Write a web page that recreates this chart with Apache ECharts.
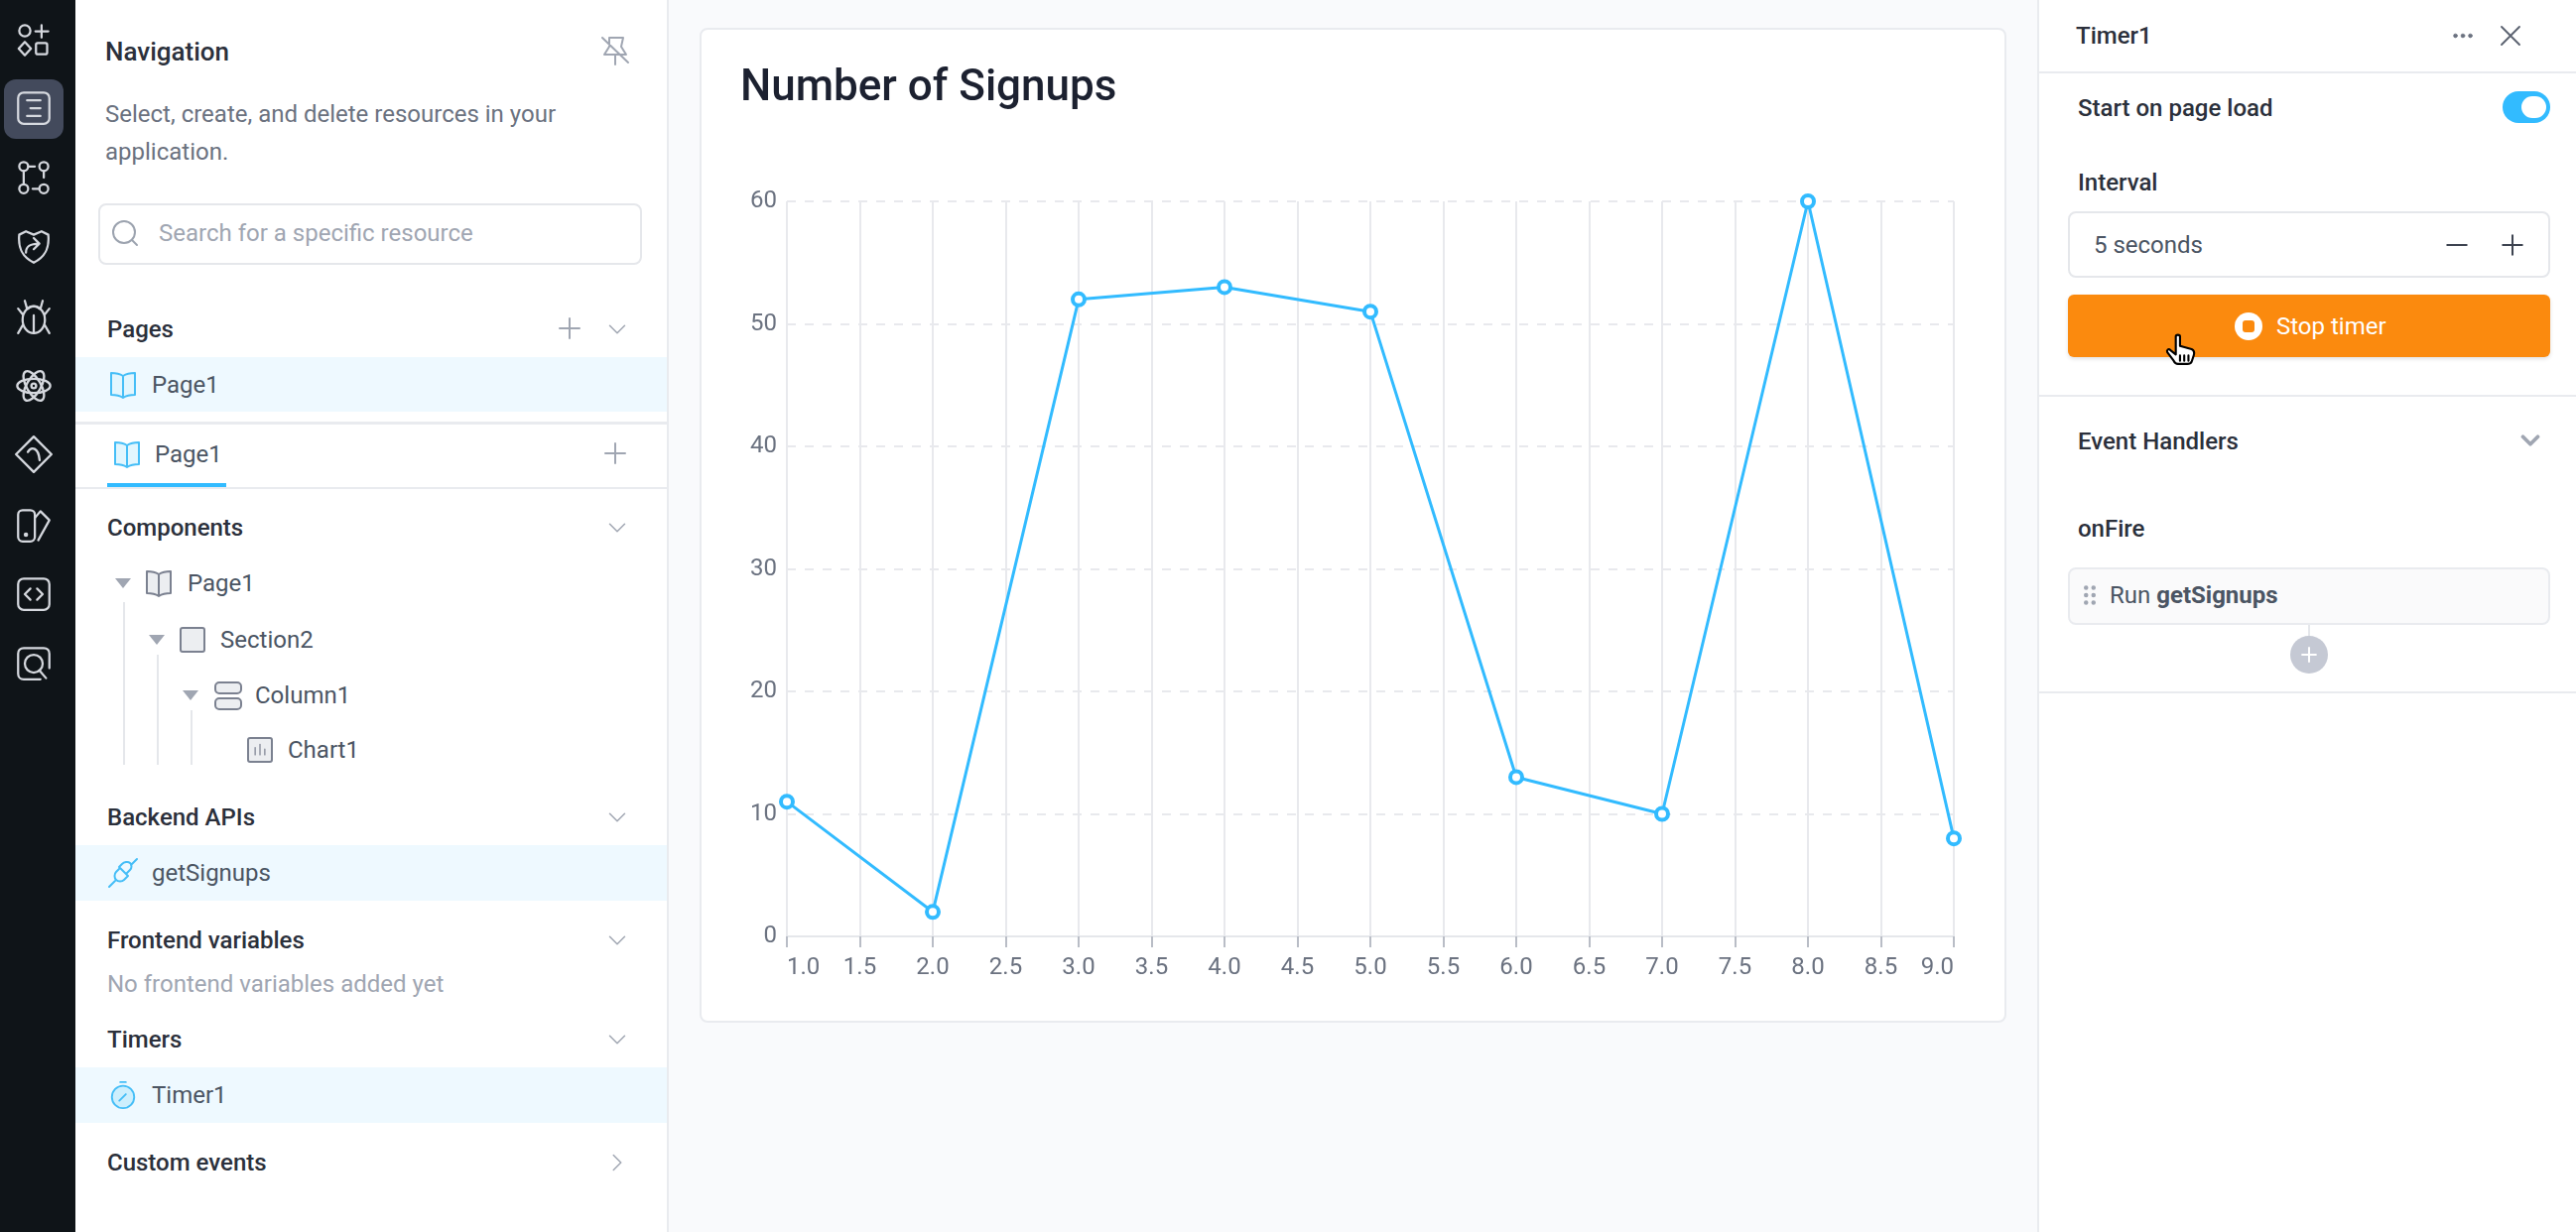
<!DOCTYPE html>
<html>
<head>
<meta charset="utf-8">
<title>Number of Signups</title>
<script src="https://cdn.jsdelivr.net/npm/echarts@6/dist/echarts.min.js"></script>
<style>
html, body { margin: 0; padding: 0; background: #f9fafc; overflow: hidden; }
#page { position: relative; width: 2596px; height: 1242px; font-family: Roboto, sans-serif; font-size: 24px; color: #2b303b; }
#page div, #page svg { position: absolute; }
.t { line-height: 38px; white-space: nowrap; }
.b { font-weight: 500; }
.m { color: #4b5563; }
.g { color: #6b7280; }
.l { color: #a0a6b2; }
</style>
</head>
<body>
<div id="page">
	<div id="chart" style="left:705px;top:28px;width:1317px;height:1003px;background:#fff;border:2px solid #e9ebef;border-radius:8px;box-sizing:border-box"></div>
</div>
<script>
var xValues = [1, 2, 3, 4, 5, 6, 7, 8, 9];
var signups = [11, 2, 52, 53, 51, 13, 10, 60, 8];
var chartTitle = 'Number of Signups';

var page = document.getElementById('page');

function box(x, y, w, h, style) {
	var d = document.createElement('div');
	d.style.cssText = 'left:' + x + 'px;top:' + y + 'px;width:' + w + 'px;height:' + h + 'px;' + (style || '');
	page.appendChild(d);
	return d;
}

function text(x, y, str, cls) {
	var d = document.createElement('div');
	d.className = 't ' + (cls || '');
	d.style.left = x + 'px';
	d.style.top = (y - 19) + 'px';
	d.innerHTML = str;
	page.appendChild(d);
	return d;
}

// svg drawn in a 32x32 box around the centre point
function icon(cx, cy, body, color, sw, size) {
	size = size || 32;
	var ns = '<svg xmlns="http://www.w3.org/2000/svg" width="' + size + '" height="' + size + '" viewBox="0 0 32 32" fill="none" stroke="' + color + '" stroke-width="' + (sw || 2) + '" stroke-linecap="round" stroke-linejoin="round" style="left:' + (cx - size / 2) + 'px;top:' + (cy - size / 2) + 'px">' + body + '</svg>';
	page.insertAdjacentHTML('beforeend', ns);
}

var BOOK_PATH = 'M16 7C13 5 8 4 4 4V26C8 26 13 27 16 29C19 27 24 26 28 26V4C24 4 19 5 16 7ZM16 7V29';
var ICONS = {
	plus: '<path d="M16 6V26M6 16H26"/>',
	chevron: '<path d="M6 11L16 21L26 11"/>',
	chevronRight: '<path d="M11 6L21 16L11 26"/>',
	book: '<path d="' + BOOK_PATH + '" fill="#e2f6fe"/>',
	bookGrey: '<path d="' + BOOK_PATH + '" fill="#eceef1"/>',
	tri: '<path d="M8 11H24L16 21Z" fill="#a0a6b2" stroke="none"/>'
};

// left rail
box(0, 0, 76, 1242, 'background:#0f1418');
box(4, 80, 60, 60, 'background:#434a5c;border-radius:12px');
var railColor = '#d5d8de';
icon(34, 40, '<circle cx="8" cy="8" r="5"/><path d="M23 3V14M17.5 8.5H29"/><path d="M8 18L13.500 24L8 30L2.500 24Z"/><rect x="18" y="19" width="10" height="10" rx="1.500"/>', railColor, 2, 36);
icon(34, 109, '<rect x="2" y="2" width="28" height="28" rx="5"/><path d="M10 9H22M13 16H22M10 23H22"/>', railColor, 2, 36);
icon(34, 179, '<circle cx="7" cy="6" r="4"/><circle cx="25" cy="6" r="4"/><circle cx="7" cy="26" r="4"/><circle cx="25" cy="26" r="4"/><path d="M11 6H17M25 10V16M7 10V22M15 26H21"/>', railColor, 2, 36);
icon(34, 249, '<path d="M3 5L9 2L16 5L23 2L29 5C30 15 28 24 16 30C4 24 2 15 3 5Z"/><path d="M9 21C9 15 13 13 21 13M16 8L21 13L16 18"/>', railColor, 2, 36);
icon(34, 319, '<ellipse cx="16" cy="19" rx="10" ry="12"/><path d="M16 15V31M8 2L10 9M24 2L22 9M6 14L2 9M26 14L30 9M6 24L2 31M26 24L30 31M11 9C13 6 19 6 21 9"/>', railColor, 2, 36);
icon(34, 389, '<ellipse cx="16" cy="16" rx="14" ry="6"/><ellipse cx="16" cy="16" rx="14" ry="6" transform="rotate(60 16 16)"/><ellipse cx="16" cy="16" rx="14" ry="6" transform="rotate(120 16 16)"/><circle cx="16" cy="16" r="2"/>', railColor, 2, 38);
icon(34, 458, '<path d="M16 1L31 16L16 31L1 16Z"/><path d="M11 14C14 9 20 10 21 21"/>', railColor, 2, 38);
icon(34, 530, '<rect x="2" y="2" width="15" height="28" rx="4"/><path d="M17 9L22 3L30 11L20 29"/><circle cx="9" cy="24" r="1"/>', railColor, 2, 36);
icon(34, 599, '<rect x="2" y="2" width="28" height="28" rx="5"/><path d="M13 11L8 16L13 21M19 11L24 16L19 21"/>', railColor, 2, 36);
icon(34, 669, '<path d="M30 20V7C30 4 28 2 25 2H7C4 2 2 4 2 7V25C2 28 4 30 7 30H22"/><circle cx="16" cy="16" r="8"/><path d="M21 22L27 29"/>', railColor, 2, 36);

// navigation panel
box(76, 0, 596, 1242, 'background:#fff;border-right:2px solid #e9ebef');
text(106, 52, 'Navigation', 'b').style.fontSize = '26px';
icon(620, 51, '<path d="M3 3L29 28M10 3H24L22 12L27 20H5L10 12ZM16 20V30"/>', '#a0a6b2');
text(106, 115, 'Select, create, and delete resources in your', 'g');
text(106, 153, 'application.', 'g');
box(99, 205, 548, 62, 'box-sizing:border-box;border:2px solid #e5e7eb;border-radius:8px');
icon(126, 235, '<circle cx="15" cy="15" r="11"/><path d="M23 23L28 28"/>', '#9ca3af');
text(160, 235, 'Search for a specific resource', 'l');

function rowBg(y0, y1) {
	box(76, y0, 596, y1 - y0, 'background:#eef9ff');
}
var CHEV = ['#a0a6b2', 2];

text(108, 332, 'Pages', 'b');
icon(574, 331, ICONS.plus, '#a0a6b2');
icon(622, 332, ICONS.chevron, CHEV[0], CHEV[1], 24);
rowBg(360, 415);
icon(124, 388, ICONS.book, '#45bef7', 2, 32);
text(153, 388, 'Page1', 'm');
box(76, 425, 596, 3, 'background:#e9ebef');
icon(128, 458, ICONS.book, '#45bef7', 2, 32);
text(156, 458, 'Page1', 'm');
icon(620, 457, ICONS.plus, '#a0a6b2');
box(108, 487, 120, 4, 'background:#32bbff');
box(76, 491, 596, 2, 'background:#e9ebef');

text(108, 532, 'Components', 'b');
icon(622, 532, ICONS.chevron, CHEV[0], CHEV[1], 24);
box(124, 607, 2, 164, 'background:#e5e7eb');
box(158, 660, 2, 111, 'background:#e5e7eb');
box(192, 716, 2, 55, 'background:#e5e7eb');
icon(124, 588, ICONS.tri, '#a0a6b2', 2, 32);
icon(160, 588, ICONS.bookGrey, '#7b8190', 2, 32);
text(189, 588, 'Page1', 'm');
icon(158, 645, ICONS.tri, '#a0a6b2', 2, 32);
box(181, 632, 26, 26, 'box-sizing:border-box;border:2px solid #7b8190;border-radius:3px;background:#eceef1');
text(222, 645, 'Section2', 'm');
icon(192, 701, ICONS.tri, '#a0a6b2', 2, 32);
box(216, 687, 28, 13, 'box-sizing:border-box;border:2px solid #7b8190;border-radius:5px;background:#eceef1');
box(216, 703, 28, 13, 'box-sizing:border-box;border:2px solid #7b8190;border-radius:5px;background:#eceef1');
text(257, 701, 'Column1', 'm');
box(249, 743, 26, 26, 'box-sizing:border-box;border:2px solid #7b8190;border-radius:3px;background:#eceef1');
icon(262, 756, '<path d="M10 13V22M16 9V22M22 15V22"/>', '#7b8190', 1.500, 26);
text(290, 756, 'Chart1', 'm');

text(108, 824, 'Backend APIs', 'b');
icon(622, 824, ICONS.chevron, CHEV[0], CHEV[1], 24);
rowBg(852, 908);
icon(124, 880, '<path d="M2 30L8 24M30 2L24 8M13 11L21 19L17 23C15 25 11 25 9 23C7 21 7 17 9 15ZM19 17L23 13C25 11 25 7 23 6C21 4 17 5 15 7L12 10"/>', '#45bef7', 2, 32);
text(153, 880, 'getSignups', 'm');

text(108, 948, 'Frontend variables', 'b');
icon(622, 948, ICONS.chevron, CHEV[0], CHEV[1], 24);
text(108, 992, 'No frontend variables added yet', 'l');

text(108, 1048, 'Timers', 'b');
icon(622, 1048, ICONS.chevron, CHEV[0], CHEV[1], 24);
rowBg(1076, 1132);
icon(124, 1104, '<circle cx="16" cy="18" r="12" fill="#cdeffd"/><path d="M13 2H19M12 22L19 15"/>', '#45bef7', 2, 30);
text(153, 1104, 'Timer1', 'm');

text(108, 1172, 'Custom events', 'b');
icon(622, 1172, ICONS.chevronRight, CHEV[0], CHEV[1], 24);

// right panel
box(2053, 0, 543, 1242, 'background:#fff;border-left:2px solid #e9ebef;box-sizing:border-box');
text(2092, 36, 'Timer1', 'b');
icon(2482, 36, '<circle cx="6" cy="16" r="2.500" fill="#6b7280"/><circle cx="16" cy="16" r="2.500" fill="#6b7280"/><circle cx="26" cy="16" r="2.500" fill="#6b7280"/>', '#6b7280', 1, 24);
icon(2530, 36, '<path d="M4 4L28 28M28 4L4 28"/>', '#5b6270', 2.500, 24);
box(2055, 72, 541, 2, 'background:#e9ebef');
text(2094, 109, 'Start on page load', 'b');
box(2522, 92, 48, 32, 'background:#32bbff;border-radius:16px');
box(2541, 97, 25, 22, 'background:#fff;border-radius:12px');
text(2094, 184, 'Interval', 'b');
box(2084, 213, 486, 67, 'box-sizing:border-box;border:2px solid #e5e7eb;border-radius:8px');
text(2110, 247, '5 seconds', 'm');
icon(2476, 247, '<path d="M4 16H28"/>', '#3d4350', 2.500, 26);
icon(2532, 247, '<path d="M16 4V28M4 16H28"/>', '#3d4350', 2.500, 26);
box(2084, 297, 486, 63, 'background:#fb8a0e;border-radius:6px;box-shadow:0 2px 4px rgba(0,0,0,.12)');
box(2252, 315, 28, 28, 'background:#fff;border-radius:14px');
box(2260, 323, 12, 12, 'background:#fb8a0e;border-radius:3px');
text(2294, 329, 'Stop timer', '').style.color = '#fff';
icon(2198, 352, '<path d="M11 4C11 2 15 2 15 4V13L26 16C28 17 29 19 28 22L26 28C25 30 24 30 22 30H13C11 30 10 29 9 27L3 19C2 17 4 15 6 17L11 21Z" fill="#fff" stroke="#000"/><path d="M15 22V27M19 22V27M23 22V27"/>', '#000', 2, 34);
box(2055, 398, 541, 2, 'background:#e9ebef');
text(2094, 445, 'Event Handlers', 'b');
icon(2550, 444, ICONS.chevron, '#a0a6b2', 5, 24);
text(2094, 533, 'onFire', 'b');
box(2084, 572, 486, 58, 'box-sizing:border-box;border:2px solid #e9ebef;border-radius:8px;background:#fafafb');
icon(2106, 600, '<circle cx="11" cy="6" r="2" fill="#a0a6b2"/><circle cx="21" cy="6" r="2" fill="#a0a6b2"/><circle cx="11" cy="16" r="2" fill="#a0a6b2"/><circle cx="21" cy="16" r="2" fill="#a0a6b2"/><circle cx="11" cy="26" r="2" fill="#a0a6b2"/><circle cx="21" cy="26" r="2" fill="#a0a6b2"/>', '#a0a6b2', 0, 24);
text(2126, 600, 'Run <span style="font-weight:700">getSignups</span>', 'm');
box(2326, 630, 2, 12, 'background:#e5e7eb');
box(2308, 641, 38, 38, 'background:#c5c9d4;border-radius:19px');
icon(2327, 660, ICONS.plus, '#fff', 3, 22);
box(2055, 697, 541, 2, 'background:#e9ebef');

// the chart
var points = [];
for (var i = 0; i < xValues.length; i++) {
	points.push([xValues[i], signups[i]]);
}

var chart = echarts.init(document.getElementById('chart'), null, { renderer: 'canvas' });
chart.setOption({
	animation: false,
	title: {
		text: chartTitle,
		left: 34,
		top: 33,
		textStyle: { fontFamily: 'Roboto', fontSize: 44, fontWeight: 500, color: '#1c2130' }
	},
	grid: { left: 86, right: 51, top: 173, bottom: 85 },
	xAxis: {
		type: 'value',
		min: 1,
		max: 9,
		interval: 0.5,
		axisLine: { show: true, lineStyle: { color: '#e5e7eb', width: 2 } },
		axisTick: { show: true, length: 11, lineStyle: { color: '#b9bdc6', width: 2 } },
		axisLabel: {
			fontFamily: 'Roboto',
			fontSize: 24,
			color: '#6b7280',
			margin: 20,
			alignMinLabel: 'left',
			alignMaxLabel: 'right',
			formatter: function(v) {
				return v.toFixed(1);
			}
		},
		splitLine: { show: true, lineStyle: { color: '#e8e9ed', width: 2 } }
	},
	yAxis: {
		type: 'value',
		min: 0,
		max: 60,
		interval: 10,
		axisLine: { show: false },
		axisTick: { show: false },
		axisLabel: { fontFamily: 'Roboto', fontSize: 24, color: '#6b7280', margin: 10 },
		splitLine: { show: true, lineStyle: { color: '#e8e9ed', width: 2, type: [9, 9] } }
	},
	series: [{
		type: 'line',
		data: points,
		symbol: 'circle',
		symbolSize: 12,
		lineStyle: { color: '#32bbff', width: 3 },
		itemStyle: { color: '#fff', borderColor: '#32bbff', borderWidth: 4, opacity: 1 },
		clip: false
	}]
});
</script>
</body>
</html>
